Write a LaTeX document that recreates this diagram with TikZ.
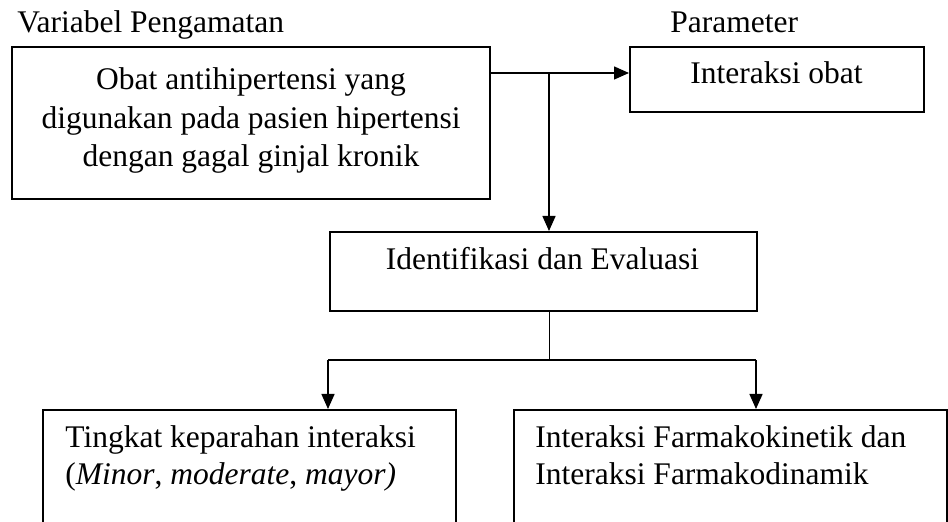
\documentclass[tikz,border=0pt]{standalone}
\usepackage{fontspec}
\setmainfont{Liberation Serif}
\usetikzlibrary{arrows.meta}
\begin{document}
\begin{tikzpicture}[x=0.5pt,y=-0.5pt,
  boxshape/.style={draw=black,line width=0.8pt,rectangle,inner sep=0pt,anchor=north west},
  txt/.style={inner sep=0pt,font=\fontsize{15.75}{19}\selectfont},
  conn/.style={line width=0.75pt},
  arr/.style={conn,-{Triangle[length=7.5pt,width=6.5pt]}},
  thin/.style={line width=0.5pt}]
\useasboundingbox (0,0) rectangle (948,522);
\clip (0,0) rectangle (948,522);
% boxes
\node[boxshape,minimum width=239pt,minimum height=76pt] (box1) at (11,46) {};
\node[boxshape,minimum width=147pt,minimum height=32.5pt] (box2) at (629,46) {};
\node[boxshape,minimum width=213.5pt,minimum height=39.5pt] (box3) at (329,231) {};
\node[boxshape,minimum width=206.5pt,minimum height=80pt] (box4) at (42,409) {};
\node[boxshape,minimum width=216.5pt,minimum height=80pt] (box5) at (513,409) {};
% texts
\node[txt,anchor=base west] (lvar) at (17,33) {Variabel Pengamatan};
\node[txt,anchor=base west] (lpar) at (670,33) {Parameter};
\node[txt,anchor=base] (t1a) at (251,90) {Obat antihipertensi yang};
\node[txt,anchor=base] (t1b) at (251,128.5) {digunakan pada pasien hipertensi};
\node[txt,anchor=base] (t1c) at (251,167) {dengan gagal ginjal kronik};
\node[txt,anchor=base] (t2) at (776.5,84) {Interaksi obat};
\node[txt,anchor=base] (t3) at (542.5,270) {Identifikasi dan Evaluasi};
\node[txt,anchor=base west] (t4a) at (65,448) {Tingkat keparahan interaksi};
\node[txt,anchor=base west] (t4b) at (65,485) {(\textit{Minor}, \textit{moderate}, \textit{mayor)}};
\node[txt,anchor=base west] (t5a) at (535,448) {Interaksi Farmakokinetik dan};
\node[txt,anchor=base west] (t5b) at (535,485) {Interaksi Farmakodinamik};
% junctions
\coordinate (j1) at (549,73);
\coordinate (j2) at (549,360);
\coordinate (cL) at (328,360);
\coordinate (cR) at (756,360);
% connectors
\draw[arr] (box1.east |- j1) -- (box2.west |- j1);
\draw[arr] (j1) -- (box3.north -| j1);
\draw[thin] (box3.south -| j2) -- (j2);
\draw[conn] (cL) -- (cR);
\draw[arr] (cL) -- (box4.north -| cL);
\draw[arr] (cR) -- (box5.north -| cR);
\end{tikzpicture}
\end{document}
